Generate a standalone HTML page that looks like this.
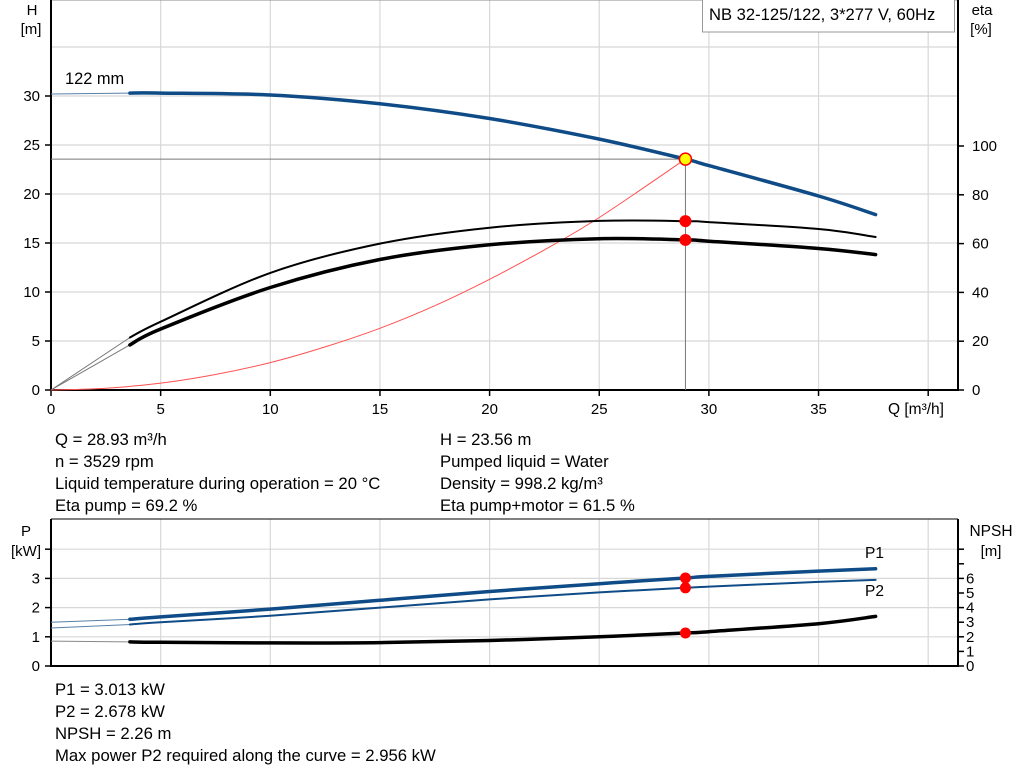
<!DOCTYPE html>
<html><head><meta charset="utf-8"><style>
body{margin:0;background:#fff;font-family:"Liberation Sans",sans-serif}
svg{display:block}
text{font-family:"Liberation Sans",sans-serif;fill:#000}
</style></head><body>
<svg id="chart" width="1024" height="781"></svg>
<script>
// ---- data ----
const qTicks=[0,5,10,15,20,25,30,35];
const hTicks=[0,5,10,15,20,25,30];
const etaTicks=[0,20,40,60,80,100];
const pTicks=[0,1,2,3];
const npshTicks=[0,1,2,3,4,5,6];
const qCurve=[3.6,5,10,15,20,25,28.93,30,35,37.6];
const hValues=[30.3,30.3,30.1,29.2,27.7,25.6,23.56,22.9,19.8,17.9];
const etaPump=[21.5,28,48,60,66.5,69.3,69.2,68.8,66,62.7];
const etaTotal=[18.5,25,42,53.5,59.5,62,61.5,61,58,55.5];
const p1Values=[1.6,1.68,1.95,2.25,2.55,2.82,3.013,3.07,3.25,3.33];
const p2Values=[1.42,1.5,1.72,2.0,2.28,2.52,2.678,2.72,2.88,2.95];
const npshValues=[1.65,1.62,1.58,1.6,1.75,2.0,2.26,2.35,2.9,3.4];
const sysQ=[0,2.5,5,7.5,10,12.5,15,17.5,20,22.5,25,28.93];
const sysH=[0,0.18,0.7,1.58,2.8,4.4,6.3,8.6,11.3,14.3,17.6,23.56];
const opQ=28.93, opH=23.56, opEtaP=69.2, opEtaT=61.5, opP1=3.013, opP2=2.678, opNPSH=2.26;
const h0=30.2, p1At0=1.5, p2At0=1.3, npshAt0=1.7;

// ---- scales ----
const X=q=>51+q*21.93;
const Y=h=>390-h*9.8;
const YE=e=>390-e*2.44;
const YP=p=>666-p*29.2;
const YN=n=>666-n*14.6;
const svg=document.getElementById('chart');
const NS='http://www.w3.org/2000/svg';
function mk(t,a,txt){const e=document.createElementNS(NS,t);for(const k in a)e.setAttribute(k,a[k]);if(txt!=null)e.textContent=txt;svg.appendChild(e);return e;}
function line(x1,y1,x2,y2,st,w){return mk('line',{x1,y1,x2,y2,stroke:st,'stroke-width':w});}
function path(xs,ys,fx,fy,st,w){
  const P=xs.map((x,i)=>[fx(x),fy(ys[i])]);
  let d='M'+P[0][0].toFixed(1)+','+P[0][1].toFixed(1);
  for(let i=0;i<P.length-1;i++){
    const p0=P[Math.max(i-1,0)],p1=P[i],p2=P[i+1],p3=P[Math.min(i+2,P.length-1)];
    const c1=[p1[0]+(p2[0]-p0[0])/6,p1[1]+(p2[1]-p0[1])/6];
    const c2=[p2[0]-(p3[0]-p1[0])/6,p2[1]-(p3[1]-p1[1])/6];
    d+='C'+c1.map(v=>v.toFixed(1)).join(',')+' '+c2.map(v=>v.toFixed(1)).join(',')+' '+p2[0].toFixed(1)+','+p2[1].toFixed(1);
  }
  return mk('path',{d,fill:'none',stroke:st,'stroke-width':w,'stroke-linejoin':'round','stroke-linecap':'round'});}

// ---- top grid ----
for(const q of [...qTicks,40]){const g=line(X(q),0,X(q),390,'#d8d8d8',1.2);}
for(const h of [5,10,15,20,25,30,35]){const g=line(51,Y(h),958,Y(h),'#d8d8d8',1.2);}
line(51,0,958,0,'#888',1);
let a=line(51,0,51,391,'#000',2);
a=line(958,0,958,391,'#000',2);
a=line(50,390,959,390,'#000',2);
for(const q of qTicks){line(X(q),390,X(q),396,'#000',1.5);const t=mk('text',{x:X(q),y:414,'text-anchor':'middle','font-size':15},q);}
line(X(40),390,X(40),396,'#000',1.5);
for(const h of hTicks){line(45,Y(h),51,Y(h),'#000',1.5);const t=mk('text',{x:40,y:Y(h)+5,'text-anchor':'end','font-size':15},h);}
for(const e of etaTicks){line(958,YE(e),964,YE(e),'#000',1.5);const t=mk('text',{x:972,y:YE(e)+5,'font-size':15},e);}
let t=mk('text',{x:32,y:15,'text-anchor':'middle','font-size':15},'H');
t=mk('text',{x:31,y:34,'text-anchor':'middle','font-size':15},'[m]');
t=mk('text',{x:982,y:15,'text-anchor':'middle','font-size':15},'eta');
t=mk('text',{x:981,y:34,'text-anchor':'middle','font-size':15},'[%]');
t=mk('text',{x:888,y:414,'font-size':15.5},'Q [m³/h]');
let r=mk('rect',{x:702.5,y:-1,width:252,height:33,fill:'#fff',stroke:'#999'});
t=mk('text',{x:709,y:20,'font-size':16.6},'NB 32-125/122, 3*277 V, 60Hz');
t=mk('text',{x:65,y:84,'font-size':16.4},'122 mm');

a=line(51,Y(opH),X(opQ),Y(opH),'#777',1);
a=line(X(opQ),Y(opH),X(opQ),390,'#777',1);
let p=path(sysQ,sysH,X,Y,'#ff5050',1);
a=line(X(0),Y(h0),X(qCurve[0]),Y(hValues[0]),'#5a7fa8',1);
a=line(X(0),YE(0),X(qCurve[0]),YE(etaPump[0]),'#777',1);
a=line(X(0),YE(0),X(qCurve[0]),YE(etaTotal[0]),'#777',1);
p=path(qCurve,hValues,X,Y,'#0f4c87',3.5);
p=path(qCurve,etaPump,X,YE,'#000',2);
p=path(qCurve,etaTotal,X,YE,'#000',3.5);
let c=mk('circle',{cx:X(opQ),cy:YE(opEtaP),r:6,fill:'#ff0000'});
c=mk('circle',{cx:X(opQ),cy:YE(opEtaT),r:6,fill:'#ff0000'});
c=mk('circle',{cx:X(opQ),cy:Y(opH),r:6,fill:'#ffff00',stroke:'#ff0000','stroke-width':1.5});

const info1=['Q = 28.93 m³/h','n = 3529 rpm','Liquid temperature during operation = 20 °C','Eta pump = 69.2 %'];
const info2=['H = 23.56 m','Pumped liquid = Water','Density = 998.2 kg/m³','Eta pump+motor = 61.5 %'];
info1.forEach((s,i)=>{const e=mk('text',{x:55,y:445+i*22,'font-size':16.7},s);});
info2.forEach((s,i)=>{const e=mk('text',{x:440,y:445+i*22,'font-size':16.7},s);});

// ---- bottom chart ----
for(const q of [...qTicks,40]){const g=line(X(q),519,X(q),666,'#d8d8d8',1.2);}
for(const v of [1,2,3,4]){const g=line(51,YP(v),958,YP(v),'#d8d8d8',1.2);}
line(51,519,958,519,'#000',1);
a=line(51,519,51,667,'#000',2);
a=line(958,519,958,667,'#000',2);
a=line(50,666,959,666,'#000',2);
for(const v of [...pTicks,4]){line(45,YP(v),51,YP(v),'#000',1.5);}
for(const v of pTicks){const e=mk('text',{x:40,y:YP(v)+5,'text-anchor':'end','font-size':15},v);}
for(const v of [...npshTicks,7,8]){line(958,YN(v),964,YN(v),'#000',1.5);}
for(const v of npshTicks){const e=mk('text',{x:966,y:YN(v)+5,'font-size':15},v);}
t=mk('text',{x:26,y:536,'text-anchor':'middle','font-size':15},'P');
t=mk('text',{x:26,y:556,'text-anchor':'middle','font-size':15},'[kW]');
t=mk('text',{x:991,y:536,'text-anchor':'middle','font-size':15.5},'NPSH');
t=mk('text',{x:991,y:556,'text-anchor':'middle','font-size':15},'[m]');
t=mk('text',{x:865,y:558,'font-size':15.5,fill:'#0f4c87'},'P1');
t=mk('text',{x:865,y:596,'font-size':15.5,fill:'#0f4c87'},'P2');
a=line(X(0),YP(p1At0),X(qCurve[0]),YP(p1Values[0]),'#5a7fa8',1);
a=line(X(0),YP(p2At0),X(qCurve[0]),YP(p2Values[0]),'#5a7fa8',1);
a=line(X(0),YN(npshAt0),X(qCurve[0]),YN(npshValues[0]),'#888',1);
p=path(qCurve,p1Values,X,YP,'#0f4c87',3.5);
p=path(qCurve,p2Values,X,YP,'#0f4c87',2);
p=path(qCurve,npshValues,X,YN,'#000',3.5);
c=mk('circle',{cx:X(opQ),cy:YP(opP1),r:5.5,fill:'#ff0000'});
c=mk('circle',{cx:X(opQ),cy:YP(opP2),r:5.5,fill:'#ff0000'});
c=mk('circle',{cx:X(opQ),cy:YN(opNPSH),r:5.5,fill:'#ff0000'});
const info3=['P1 = 3.013 kW','P2 = 2.678 kW','NPSH = 2.26 m','Max power P2 required along the curve = 2.956 kW'];
info3.forEach((s,i)=>{const e=mk('text',{x:55,y:695+i*22,'font-size':16.7},s);});
</script>
</body></html>
